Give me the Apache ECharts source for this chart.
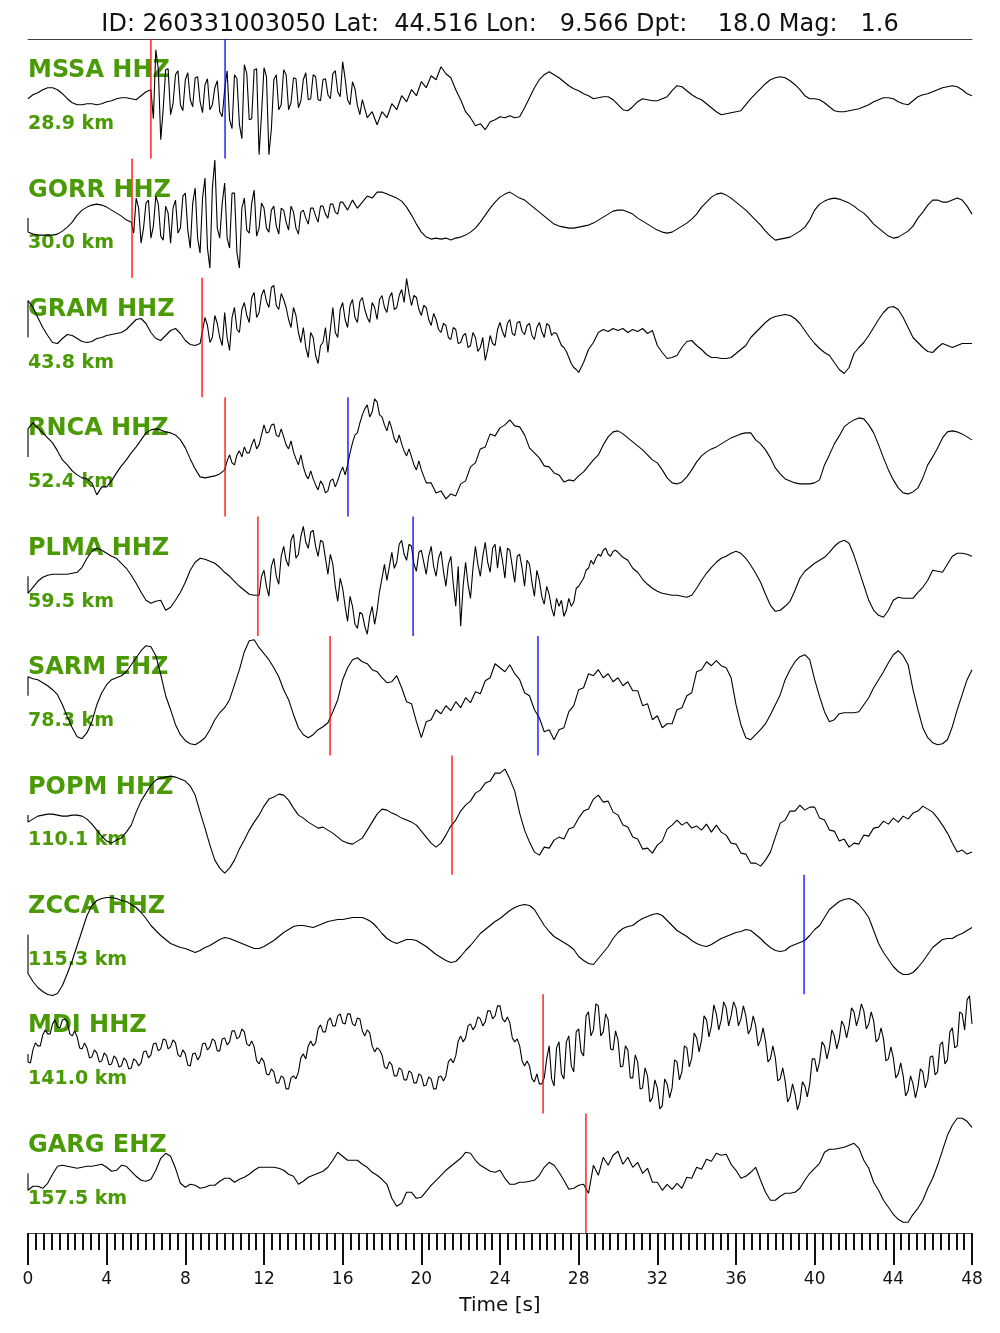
<!DOCTYPE html>
<html><head><meta charset="utf-8">
<script src="https://cdn.jsdelivr.net/npm/echarts@6/dist/echarts.min.js"></script>
<style>html,body{margin:0;padding:0;background:#fff}#c{width:1000px;height:1333px}</style>
</head><body><div id="c"></div>
<script>
const TITLE = 'ID: 260331003050 Lat:  44.516 Lon:   9.566 Dpt:    18.0 Mag:   1.6';
const STATIONS = ['MSSA HHZ','GORR HHZ','GRAM HHZ','RNCA HHZ','PLMA HHZ','SARM EHZ','POPM HHZ','ZCCA HHZ','MDI HHZ','GARG EHZ'];
const DISTANCES = ['28.9 km','30.0 km','43.8 km','52.4 km','59.5 km','78.3 km','110.1 km','115.3 km','141.0 km','157.5 km'];
const RED_PICKS  = [6.25, 5.29, 8.85, 10.02, 11.69, 15.36, 21.56, null, 26.19, 28.37];
const BLUE_PICKS = [10.02, null, null, 16.27, 19.58, 25.93, null, 39.46, null, null];
const DT = 0.25; // sample step in seconds, 4 samples per second
const T_MIN = 0, T_MAX = 48, T_STEP = 4;

// Main samples at t = 0, 0.25, 0.5, ... 48 s
const MSSA = [
2,4,6,9, 11,11,9,5, 0,-4,-6,-6, -5,-5,-6,-5, -3,-2,0,1, 1,0,-1,3,
7,9,49,-41, 29,-16,24,-6, 19,-1,21,-3, 14,-11,11,-13, 9,-21,24,-26, 34,-21,29,-56,
31,-56,19,-11, 29,-11,21,-9, 19,-1,24,-1, 19,4,25,7, 37,-1,17,-7, -1,-19,-13,-26,
-13,-19,-5,-11, 3,-3,9,3, 17,11,23,19, 32,25,21,9, -1,-13,-19,-27, -25,-31,-23,-21,
-18,-19,-17,-19, -18,-9,1,11, 19,24,27,24, 21,17,13,10, 8,5,3,0, 1,2,2,-1,
-6,-11,-12,-8, -3,0,-1,-2, -2,0,2,8, 13,12,8,4, 1,-1,-5,-9, -13,-16,-15,-14,
-13,-12,-6,0, 5,10,15,19, 21,22,21,18, 14,9,3,0, 0,-1,-4,-8, -12,-13,-13,-12,
-11,-10,-8,-6, -3,-1,1,1, 0,-3,-5,-6, -2,2,4,5, 7,9,11,12, 13,12,9,5, 3];

const GORR = [
-14,-16,-17,-17, -17,-17,-16,-13, -9,-4,3,8, 11,13,14,13, 11,8,5,2, -2,-4,20,-25,
15,-20,22,-18, 12,-25,18,-10, 25,-30,30,-35, 40,-50,58,-20, 35,-30,25,-50, 20,-15,28,-10,
10,-14,12,-16, 8,-12,6,-16, 8,-6,10,-4, 12,0,14,4, 16,8,18,10, 16,22,20,26,
26,24,22,20, 17,11,3,-6, -14,-19,-21,-20, -21,-20,-22,-20, -19,-17,-14,-10, -4,3,10,16,
21,24,26,23, 20,18,14,10, 6,2,-2,-6, -8,-9,-10,-10, -9,-8,-7,-5, -2,1,4,7,
8,8,6,4, 0,-3,-6,-9, -12,-14,-15,-14, -11,-8,-5,-1, 4,11,16,21, 24,25,23,20,
16,12,8,3, -2,-7,-13,-18, -22,-21,-20,-19, -16,-13,-9,-2, 8,14,17,19, 20,19,17,15,
12,8,5,0, -6,-10,-14,-18, -20,-19,-16,-13, -8,0,6,13, 18,18,16,16, 18,20,18,12, 4];

const GRAM = [
37,30,20,10, 2,-5,-6,-1, 3,2,-1,-4, -5,-4,-1,0, 2,3,4,5, 8,13,18,19,
14,5,-1,-3, 2,7,9,4, -3,-7,-8,-6, 20,-5,22,0, 25,-13,30,5, 35,15,45,25,
48,30,52,28, 38,18,30,5, 10,-20,0,-26, -5,-15,30,0, 35,10,38,15, 40,20,35,18,
42,25,45,30, 48,59,32,40, 22,30,12,18, 5,12,-2,8, -5,4,-8,0, -10,-23,2,-8,
15,0,18,2, 16,3,14,-2, 15,0,12,5, -2,-10,-20,-30, -35,-25,-12,-5, 5,8,6,9,
7,9,5,8, 6,9,4,7, -8,-15,-21,-20, -18,-10,-4,-3, -8,-12,-17,-20, -20,-21,-21,-20,
-16,-12,-8,0, 5,10,15,19, 21,22,23,22, 19,14,7,0, -6,-11,-15,-18, -25,-32,-36,-30,
-16,-10,-5,2, 10,18,25,30, 31,28,20,10, 0,-5,-10,-14, -15,-10,-6,-8, -10,-8,-6,-6, -6];

const RNCA = [
28,34,29,24, 19,14,6,-3, -8,-14,-18,-21, -22,-26,-38,-30, -30,-24,-16,-9, -3,4,10,17,
24,27,28,27, 25,24,22,17, 9,-2,-12,-20, -21,-20,-19,-17, -13,2,-8,6, 10,4,18,12,
32,25,33,20, 20,8,5,-8, -10,-22,-22,-33, -28,-34,-22,-24, -10,-8,14,24, 42,52,45,55,
40,26,28,14, 13,1,0,-13, -13,-26,-26,-36, -34,-42,-37,-39, -27,-24,-10,-6, 8,10,23,21,
29,32,37,31, 30,22,9,4, -1,-9,-10,-16, -18,-25,-23,-24, -19,-15,-9,-3, 2,12,20,25,
26,23,19,15, 11,7,2,-3, -6,-13,-21,-26, -27,-25,-20,-13, -5,1,5,8, 10,13,16,19,
21,23,24,24, 17,13,7,-1, -11,-17,-22,-24, -26,-27,-27,-27, -26,-23,-8,2, 13,21,30,34,
37,39,38,32, 24,12,-1,-13, -23,-31,-36,-37, -35,-31,-21,-8, 0,9,19,25, 26,25,23,20, 17];

const PLMA = [
-17,-11,-5,-1, 1,2,2,2, 2,3,4,9, 18,25,28,26, 23,20,18,13, 8,1,-7,-16,
-24,-27,-25,-24, -34,-31,-24,-16, -6,6,14,18, 17,15,13,9, 4,0,-5,-10, -14,-18,-19,-19,
6,-20,18,-8, 30,10,42,22, 50,28,46,20, 34,2,12,-25, -12,-45,-30,-52, -38,-58,-30,-34,
-2,-4,24,14, 36,16,30,5, 26,2,30,0, 25,-10,20,-30, -50,14,-22,30, 0,34,4,32,
30,-2,26,-6, 22,-10,12,-20, -4,-28,-18,-40, -30,-40,-22,-26, -10,-2,8,12, 22,26,22,25,
24,19,16,8, 4,-3,-8,-12, -15,-17,-18,-19, -19,-20,-21,-19, -12,-4,3,9, 14,18,20,23,
25,23,18,11, 3,-6,-18,-29, -35,-34,-30,-25, -14,-2,5,9, 13,16,19,24, 30,34,36,33,
21,6,-9,-24, -34,-39,-41,-34, -24,-21,-22,-22, -22,-16,-11,-4, 6,5,4,12, 20,23,23,22, 20];

const SARM = [
19,17,16,13, 10,6,1,-9, -21,-32,-41,-43, -37,-26,-9,3, 11,16,18,20, 24,31,38,45,
50,49,40,21, 0,-14,-29,-39, -45,-48,-49,-46, -42,-34,-24,-17, -12,-4,11,26, 44,55,56,48,
42,36,28,19, 6,-4,-19,-32, -39,-42,-39,-34, -31,-27,-16,-4, 16,28,36,38, 34,32,26,24,
18,13,14,20, 8,-6,-8,-26, -42,-26,-24,-14, -18,-10,-15,-6, -12,-2,-7,4, 2,15,18,32,
28,24,31,22, 16,3,0,-14, -22,-36,-34,-44, -34,-32,-16,-10, 6,8,22,20, 26,18,22,14,
18,10,14,5, 5,-10,-8,-24, -20,-32,-28,-28, -14,-12,0,3, 24,26,34,30, 35,30,28,18,
-9,-29,-42,-44, -39,-34,-28,-19, -9,1,16,26, 34,39,41,36, 16,-1,-16,-26, -24,-18,-17,-17,
-17,-16,-9,-2, 8,16,24,33, 41,45,40,31, 6,-14,-32,-42, -47,-49,-48,-44, -31,-14,1,16, 26];

const POPM = [
-7,-4,-1,0, 1,1,0,-1, -1,0,0,-1, -4,-9,-15,-21, -26,-28,-25,-23, -17,-10,3,14,
22,30,35,37, 38,39,38,36, 34,29,20,3, -13,-30,-45,-53, -58,-53,-45,-34, -25,-15,-7,0,
9,16,18,21, 20,15,7,0, -3,-7,-10,-13, -12,-15,-18,-22, -26,-28,-29,-26, -23,-15,-7,1,
6,5,2,0, -3,-5,-7,-10, -16,-22,-28,-32, -28,-20,-11,-5, 4,10,14,22, 25,32,34,42,
42,46,36,24, 2,-15,-27,-37, -40,-32,-33,-25, -22,-24,-14,-12, -3,4,6,16, 20,13,14,3,
0,-10,-12,-22, -24,-34,-33,-38, -30,-26,-14,-10, -5,-10,-7,-13, -11,-15,-9,-17, -10,-17,-20,-28,
-29,-38,-39,-48, -48,-51,-45,-37, -22,-8,-5,4, 4,10,5,8, 8,-3,-5,-15, -16,-26,-24,-32,
-28,-29,-20,-21, -13,-12,-6,-9, -3,-7,-1,-4, 2,4,9,6, 3,-3,-10,-18, -28,-37,-35,-39, -37];

const ZCCA = [
-39,-47,-53,-57, -60,-61,-59,-51, -39,-26,-11,4, 19,29,34,36, 37,37,36,34, 33,30,27,22,
16,9,4,-1, -5,-9,-11,-13, -14,-16,-18,-16, -13,-11,-8,-5, -3,-4,-6,-8, -10,-12,-14,-14,
-12,-9,-6,-2, 2,5,8,9, 9,8,7,9, 11,13,14,15, 15,16,17,17, 17,15,12,7,
1,-4,-7,-9, -7,-5,-5,-6, -9,-12,-16,-20, -23,-26,-28,-27, -22,-16,-11,-5, 1,5,9,13,
16,20,24,27, 29,30,29,25, 17,9,3,-2, -5,-8,-11,-15, -22,-26,-29,-30, -24,-18,-12,-4,
2,6,8,9, 13,16,18,20, 21,19,14,9, 4,1,-2,-6, -9,-11,-12,-10, -7,-4,-2,0,
2,3,5,4, 0,-4,-9,-13, -16,-17,-16,-12, -10,-8,-6,-1, 5,9,17,25, 29,33,35,36,
34,30,24,17, 4,-9,-18,-25, -32,-37,-40,-40, -38,-33,-27,-20, -13,-9,-5,-4, -4,-1,1,4, 7];

const MDI = [
-8,4,8,19, 20,30,27,34, 32,18,17,5, 6,-3,1,-7, -2,-10,-5,-12, -7,-14,-7,-9,
3,-1,11,5, 14,7,11,-3, 0,-12,1,-2, 11,7,13,3, 16,12,23,17, 22,8,7,-10,
-8,-21,-18,-29, -24,-35,-22,-18, 0,8,8,25, 22,33,28,38, 31,40,30,36, 23,24,8,6,
-1,-15,-11,-22, -16,-26,-19,-29, -22,-31,-25,-35, -22,-22,-5,-2, 18,16,30,28, 35,32,43,38,
48,32,31,12, 8,-12,-12,-28, -30,-24,8,-32, 12,-25,18,-18, 25,-2,42,24, 48,22,34,4,
14,-12,4,-24, -8,-34,-22,-44, -34,-52,-30,-34, -8,-18,6,-4, 16,14,34,28, 40,34,46,38,
46,35,38,25, 28,14,13,-5, -4,-25,-27,-43, -40,-48,-32,-30, -5,-8,8,6, 18,15,28,28,
42,37,43,30, 33,15,15,-5, -4,-20,-22,-37, -30,-33,-18,-26, -2,-18,12,-6, 26,8,40,54, 30];

const GARG = [
-17,-13,-13,-15, -10,-1,7,8, 7,6,5,6, 7,7,8,9, 6,2,3,8, 7,2,-3,-7,
-8,-6,3,15, 20,17,5,-10, -14,-11,-12,-15, -14,-12,-12,-8, -5,-5,-9,-6, -4,-1,3,6,
6,6,6,5, 3,-1,-3,-11, -8,-4,-2,0, 2,6,13,21, 17,13,13,13, 9,6,1,-2,
-6,-11,-25,-33, -30,-19,-19,-25, -24,-18,-12,-7, -2,3,7,11, 15,21,20,13, 8,5,2,1,
3,-5,-11,-11, -9,-9,-8,-7, -2,6,11,8, 1,-7,-16,-15, -12,-11,-20,8, -2,16,8,18,
22,9,16,6, 11,0,5,-9, -9,-17,-11,-16, -10,-15,-4,-5, 6,4,14,12, 20,18,19,9,
3,-5,-3,1, 6,-7,-19,-27, -27,-23,-20,-20, -19,-15,-7,0, 5,10,21,24, 24,25,26,28,
30,25,13,5, -9,-17,-27,-34, -41,-46,-49,-49, -41,-35,-27,-15, -5,8,23,38, 48,55,55,52, 46];

// Extra in-between samples (t = start + k*0.25) in the noisy stretches
const MSSA_MID = [-20,30,-10,30,-5, 28,-12,26,-8,22, -14,20,-6,18,-18, 28,-30,20,-40,25,
 -20,30,-15,22,-30, 24,-6,24,-4,20, -2,26,0,22,-2, 20,0,28,2,20, -6,10,-16];
const GORR_MID = [-15,10,-10,18,-8, 14,-22,5,10,-15, 22,-12,15,-20,20, -30,30,-10,15,-20,
 25,-35,10,-12,15, -18,15,-10,8,-8, 10,-4,12,-10,6, 0,10,2,12,4, 14,6,16];
const GRAM_MID = [12,0,14,-8, 0,20,8,28, 22,40,20,42, 36,50,32,44, 30,10,22,-5, -10,5,-18,-8,
 10,8,5,28, 18,32,20,36, 28,15,30,38, 30,40,28,42, 35,44,42,28, 32,18,24,8, 14,0,10,-6,
 2,-10,5,-14, 0,-12,-6,8, 6,14,4,15, 6,12,2,10, 6,14,2,4, -8,-14,-26,-32];
const RNCA_MID = [-4,-6,2,0, 4,12,8,22, 24,32,22,28, 12,16,-2,2, -18,-14,-28,-24,
 -36,-24,-30,-16, -18,4,22,34, 48,40,58,42, 32,36,18,22, 6,8,-8,-4];
const PLMA_MID = [0, -10,10,0,20, 16,36,18,40, 34,44,30,36, 18,22,-10,-2, -30,-20,-48,-36,
 -50,-40,-48,-15, 12,10,8,32, 22,32,12,24, 14,20,10,18, 5,12,-8,10, -10,-8,8,12,
 20,14,28,8, 16,28,10,20, 8,16,-6,6, -20,-10,-32,-22, -24,-34,-30,-12, -6,6,16,18, 20,28,20,26];
const MDI_MID = [
-9,11,8,24, 20,34,26,35, 20,23,6,11, -4,4,-8,1, -11,-2,-13,-4, -15,-5,-12,2,
-4,10,3,15, 5,14,-1,4, -11,0,-6,10, 4,15,3,15, 9,23,15,25, 10,13,-7,-4,
-20,-15,-29,-22, -35,-24,-25,-4, -5,13,11,29, 22,36,28,40, 30,40,28,35, 18,21,2,4,
-13,-8,-22,-14, -26,-17,-29,-20, -32,-23,-35,-23, -27,-8,-9,13, 12,28,24,37, 28,43,35,48,
35,37,16,15, -7,-7,-25,-20, -30,-5,-25,6, -20,12,-12,22, 2,38,18,50, 18,40,5,23,
-13,8,-24,-1, -35,-14,-48,-26, -55,-25,-44,-6, -26,8,-13,21, 2,38,17,49, 24,52,28,52,
28,48,20,38, 8,26,-8,8, -27,-14,-48,-30, -56,-28,-43,-5, -18,12,-5,24, 5,33,16,46,
28,50,25,42, 12,26,-7,7, -24,-9,-42,-22, -44,-15,-34,-3, -21,9,-10,22, 6,42,24,58];

const TRACES = [MSSA, GORR, GRAM, RNCA, PLMA, SARM, POPM, ZCCA, MDI, GARG];
const MIDS = [MSSA_MID, GORR_MID, GRAM_MID, RNCA_MID, PLMA_MID, null, null, null, MDI_MID, null];
const MID_STARTS = [6.375, 5.375, 9.125, 10.125, 11.875, null, null, null, 0.125, null];

const GREEN = '#4a9a05';
const FONT = '"DejaVu Sans", sans-serif';
const TOP = 39, H = 119.4, L = 28, R = 28, AMP = 59.7;

const chart = echarts.init(document.getElementById('c'), null, {renderer: 'canvas', width: 1000, height: 1333});
const N = TRACES.length;
const grids = [], xAxes = [], yAxes = [], series = [], graphics = [];
function pickSeries(i, t, color) {
  return {type: 'line', xAxisIndex: i, yAxisIndex: i, data: [[t, -AMP], [t, AMP]],
    showSymbol: false, symbol: 'none', animation: false, silent: true, z: 4,
    lineStyle: {color: color, width: 1.3}};
}
for (let i = 0; i < N; i++) {
  const top = TOP + i * H;
  const first = i === 0, last = i === N - 1;
  grids.push({left: L, right: R, top: top, height: H});
  xAxes.push({
    type: 'value', gridIndex: i, min: T_MIN, max: T_MAX, interval: T_STEP,
    position: first ? 'top' : 'bottom', show: first || last,
    axisLine: {show: true, onZero: false, lineStyle: {color: '#444', width: 1}},
    axisTick: {show: last, length: 32, lineStyle: {color: '#111', width: 2}},
    minorTick: {show: last, splitNumber: 10, length: 17, lineStyle: {color: '#111', width: 2}},
    axisLabel: {show: last, margin: 38, fontSize: 17, color: '#111', fontFamily: FONT},
    splitLine: {show: false}, minorSplitLine: {show: false},
    name: last ? 'Time [s]' : '', nameLocation: 'middle', nameGap: 63,
    nameTextStyle: {fontSize: 20, color: '#111', fontFamily: FONT}
  });
  yAxes.push({type: 'value', gridIndex: i, min: -AMP, max: AMP, show: false, splitLine: {show: false}});
  let data = [[T_MIN, 0]].concat(TRACES[i].map((v, k) => [k * DT, v]));
  if (MIDS[i]) {
    data = data.concat(MIDS[i].map((v, k) => [MID_STARTS[i] + k * DT, v]));
    data.sort((a, b) => a[0] - b[0]);
  }
  series.push({
    type: 'line', xAxisIndex: i, yAxisIndex: i, data: data,
    showSymbol: false, symbol: 'none', clip: false, animation: false, z: 3,
    lineStyle: {color: '#000', width: 1.1}
  });
  if (RED_PICKS[i] != null) series.push(pickSeries(i, RED_PICKS[i], '#ff0000'));
  if (BLUE_PICKS[i] != null) series.push(pickSeries(i, BLUE_PICKS[i], '#0000ff'));
  graphics.push({type: 'text', x: L, y: top + 32, z: 1,
    style: {text: STATIONS[i], font: 'bold 24px ' + FONT, fill: GREEN, verticalAlign: 'middle'}});
  graphics.push({type: 'text', x: L, y: top + 85, z: 1,
    style: {text: DISTANCES[i], font: 'bold 19px ' + FONT, fill: GREEN, verticalAlign: 'middle'}});
}

chart.setOption({
  animation: false,
  backgroundColor: '#fff',
  title: {text: TITLE, left: 'center', top: 8,
    textStyle: {fontSize: 24, fontWeight: 'normal', color: '#111', fontFamily: FONT}},
  grid: grids, xAxis: xAxes, yAxis: yAxes, series: series,
  graphic: graphics
});
</script></body></html>
